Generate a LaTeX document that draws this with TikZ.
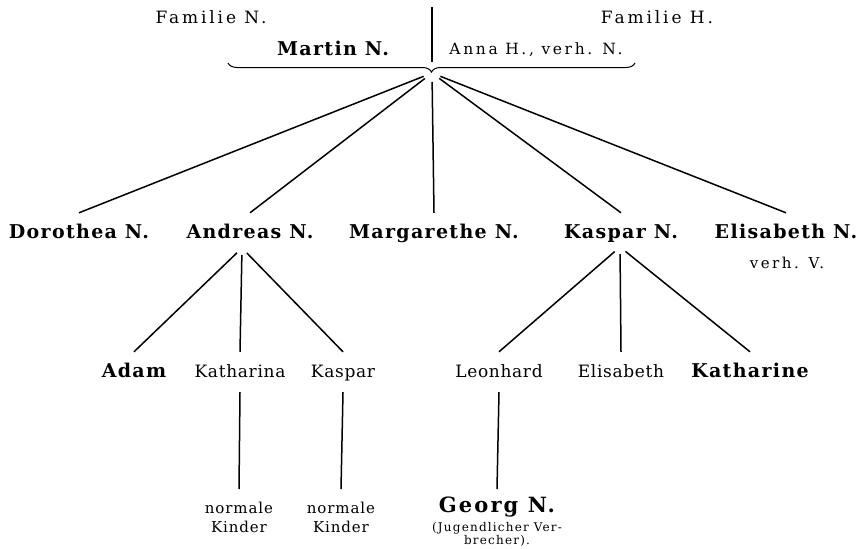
\documentclass[tikz,border=0pt]{standalone}
\usepackage{fontspec}
\setmainfont{DejaVu Serif}
\newfontfamily\oldface[LetterSpace=4]{DejaVu Serif}
\newfontfamily\boldface[LetterSpace=7]{DejaVu Serif Bold}
\newfontfamily\wideface[LetterSpace=17]{DejaVu Serif}
\usepackage{tikz}
\usetikzlibrary{positioning}
\usetikzlibrary{decorations.pathreplacing}
\pgfdeclarelayer{nodelayer}
\pgfdeclarelayer{edgelayer}
\pgfsetlayers{nodelayer,edgelayer,main}
\tikzset{
    none/.style = {inner sep=0pt},
    famhead/.style = {font=\wideface\fontsize{17}{19}\selectfont, inner sep=0pt},
    heir/.style = {anchor=base, font=\boldface\fontsize{19}{22}\selectfont,
        text height=14pt, text depth=4pt, inner xsep=0pt, inner ysep=11pt},
    child/.style = {anchor=base, font=\oldface\fontsize{17}{20}\selectfont,
        text height=14pt, text depth=4pt, inner xsep=0pt, inner ysep=11pt},
    remark/.style = {font=\oldface\addfontfeature{LetterSpace=6}\fontsize{15}{19}\selectfont,
        align=center, anchor=north, inner xsep=0pt, inner ysep=13pt},
    line/.style = {line width=1.5pt}
}

\begin{document}
\begin{tikzpicture}[x=1pt, y=-1pt]
  \useasboundingbox (0, 0) rectangle (868, 549);
  \begin{pgfonlayer}{nodelayer}
    % parents
    \node [style=famhead] (famN) at (211, 17) {Familie N.};
    \node [style=famhead] (famH) at (657, 17) {Familie H.};
    \node [style=heir, anchor=center, inner ysep=0pt] (martin) at (333, 50) {Martin N.};
    \node [style=famhead, font=\wideface\fontsize{15.5}{17}\selectfont] (anna) at (536, 50) {Anna H., verh. N.};
    \coordinate (top) at (432, 7);
    \coordinate (bar) at (432, 62);
    \coordinate (apex) at (432, 73);
    % children
    \node [style=heir] (dorothea) at (79, 238) {Dorothea N.};
    \node [style=heir] (andreas) at (250, 238) {Andreas N.};
    \node [style=heir] (margarethe) at (434, 238) {Margarethe N.};
    \node [style=heir] (kasparN) at (621, 238) {Kaspar N.};
    \node [style=heir] (elisabethN) at (786, 238) {Elisabeth N.};
    \node [style=child, font=\wideface\fontsize{15}{17}\selectfont] (verh) at (787, 268) {verh. V.};
    \coordinate (aknot) at (242, 248);
    \coordinate (kknot) at (620, 247);
    % grandchildren
    \node [style=heir] (adam) at (134, 377) {Adam};
    \node [style=child] (katharina) at (240, 377) {Katharina};
    \node [style=child] (kaspar) at (343, 377) {Kaspar};
    \node [style=child] (leonhard) at (499, 377) {Leonhard};
    \node [style=child] (elisabeth) at (621, 377) {Elisabeth};
    \node [style=heir] (katharine) at (750, 377) {Katharine};
    % great-grandchildren
    \node [style=remark] (kinder1) at (239, 489) {normale\\Kinder};
    \node [style=remark] (kinder2) at (341, 489) {normale\\Kinder};
    \node [style=remark, inner ysep=8pt, font=\boldface\addfontfeature{LetterSpace=10}\fontsize{21}{24}\selectfont] (georg) at (497, 489) {Georg N.};
    \node [style=none, align=center, font=\oldface\addfontfeature{LetterSpace=10}\fontsize{12}{10.5}\selectfont, below=-3pt of georg] (crime) {(Jugendlicher Ver-\\brecher).};
  \end{pgfonlayer}
  \begin{pgfonlayer}{edgelayer}
    \draw [style=line] (top) to (bar);
    \draw [line width=1pt, decorate, decoration={brace, amplitude=9pt, mirror}] (228, 63) to (635, 63);
    \draw [style=line, shorten <=9pt] (apex) to (dorothea.north);
    \draw [style=line, shorten <=9pt] (apex) to (andreas.north);
    \draw [style=line, shorten <=9pt] (apex) to (margarethe.north);
    \draw [style=line, shorten <=9pt] (apex) to (kasparN.north);
    \draw [style=line, shorten <=9pt] (apex) to (elisabethN.north);
    \draw [style=line, shorten <=7pt] (aknot) to (adam.north);
    \draw [style=line, shorten <=7pt] (aknot) to (katharina.north);
    \draw [style=line, shorten <=7pt] (aknot) to (kaspar.north);
    \draw [style=line, shorten <=7pt] (kknot) to (leonhard.north);
    \draw [style=line, shorten <=7pt] (kknot) to (elisabeth.north);
    \draw [style=line, shorten <=7pt] (kknot) to (katharine.north);
    \draw [style=line] (katharina.south) to (kinder1.north);
    \draw [style=line] (kaspar.south) to (kinder2.north);
    \draw [style=line] (leonhard.south) to (georg.north);
  \end{pgfonlayer}
\end{tikzpicture}
\end{document}
